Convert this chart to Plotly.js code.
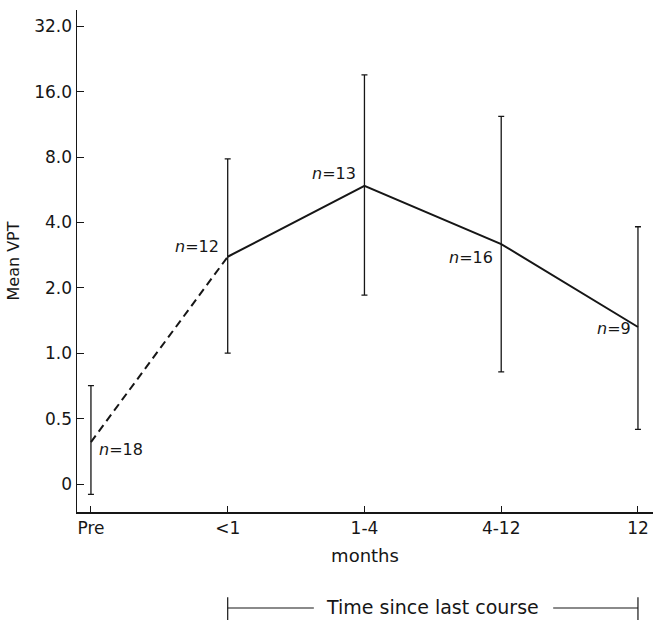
<!DOCTYPE html>
<html>
<head>
<meta charset="utf-8">
<script src="https://cdn.plot.ly/plotly-3.0.1.min.js"></script>
<style>html,body{margin:0;padding:0;background:#fff;}#chart{width:653px;height:620px;}</style>
</head>
<body>
<div id="chart"></div>
<script>
// Data
const categories = ['Pre', '<1', '1-4', '4-12', '12'];
const tickLabels = ['Pre', '&lt;1', '1-4', '4-12', '12'];
const meanVPT = [0.39, 2.78, 5.90, 3.18, 1.32];
const upperVPT = [0.71, 7.84, 19.1, 12.3, 3.82];
const lowerVPT = [0.224, 1.0, 1.85, 0.82, 0.446];
const nValues = [18, 12, 13, 16, 9];
const yTickVals = [0.25, 0.5, 1, 2, 4, 8, 16, 32];
const yTickText = ['0', '0.5', '1.0', '2.0', '4.0', '8.0', '16.0', '32.0'];

const ink = '#161616';
const font = 'DejaVu Sans, Liberation Sans, sans-serif';

const errPlus = meanVPT.map((m, i) => upperVPT[i] - m);
const errMinus = meanVPT.map((m, i) => m - lowerVPT[i]);

const traces = [
  { // dashed segment Pre -> <1
    x: categories.slice(0, 2), y: meanVPT.slice(0, 2),
    type: 'scatter', mode: 'lines',
    line: { color: ink, width: 2, dash: '8px,5px' },
    hoverinfo: 'skip'
  },
  { // solid segment
    x: categories.slice(1), y: meanVPT.slice(1),
    type: 'scatter', mode: 'lines',
    line: { color: ink, width: 2 },
    hoverinfo: 'skip'
  },
  { // error bars
    x: categories, y: meanVPT,
    type: 'scatter', mode: 'markers',
    marker: { size: 1, color: 'rgba(0,0,0,0)' },
    error_y: { type: 'data', symmetric: false, array: errPlus, arrayminus: errMinus,
               color: ink, thickness: 1.3, width: 3 },
    hoverinfo: 'skip'
  }
];

// label offsets (pixels) relative to each point
const labelPos = [
  { xanchor: 'left', xshift: 6, yshift: -7 },
  { xanchor: 'right', xshift: -7, yshift: 10 },
  { xanchor: 'right', xshift: -6, yshift: 12 },
  { xanchor: 'right', xshift: -6, yshift: -13 },
  { xanchor: 'right', xshift: -5, yshift: -1 }
];

const annotations = categories.map((c, i) => ({
  x: i, y: Math.log10(meanVPT[i]), xref: 'x', yref: 'y',
  text: '<i>n</i>=' + nValues[i], showarrow: false,
  xanchor: labelPos[i].xanchor, yanchor: 'middle',
  xshift: labelPos[i].xshift, yshift: labelPos[i].yshift,
  font: { family: font, size: 16, color: ink }
}));

annotations.push({
  x: 2.5, y: -0.189, xref: 'x', yref: 'paper',
  text: 'Time since last course', showarrow: false,
  xanchor: 'center', yanchor: 'middle',
  font: { family: font, size: 19, color: ink }
});

const shapes = [
  { type: 'line', xref: 'x', yref: 'paper', x0: 1, x1: 1.63, y0: -0.1912, y1: -0.1912, line: { color: ink, width: 1.2 } },
  { type: 'line', xref: 'x', yref: 'paper', x0: 3.38, x1: 4, y0: -0.1912, y1: -0.1912, line: { color: ink, width: 1.2 } },
  { type: 'line', xref: 'x', yref: 'paper', x0: 1, x1: 1, y0: -0.170, y1: -0.215, line: { color: ink, width: 1.2 } },
  { type: 'line', xref: 'x', yref: 'paper', x0: 4, x1: 4, y0: -0.170, y1: -0.215, line: { color: ink, width: 1.2 } }
];

const layout = {
  width: 653, height: 620,
  margin: { l: 77, r: 0, t: 10, b: 108 },
  paper_bgcolor: '#fff', plot_bgcolor: '#fff',
  showlegend: false,
  font: { family: font, size: 17, color: ink },
  xaxis: {
    type: 'category', categoryorder: 'array', categoryarray: categories,
    tickvals: categories, ticktext: tickLabels,
    range: [-0.102, 4.11],
    showgrid: false, zeroline: false,
    showline: true, linecolor: ink, linewidth: 1.5,
    ticks: 'inside', ticklen: 6, tickwidth: 1, tickcolor: ink,
    tickfont: { family: font, size: 17, color: ink },
    title: { text: 'months', font: { family: font, size: 18, color: ink }, standoff: 12 }
  },
  yaxis: {
    type: 'log', range: [-0.7309, 1.5798],
    tickvals: yTickVals, ticktext: yTickText,
    showgrid: false, zeroline: false,
    showline: true, linecolor: ink, linewidth: 1.5,
    ticks: 'inside', ticklen: 7, tickwidth: 1, tickcolor: ink,
    tickfont: { family: font, size: 17, color: ink },
    title: { text: 'Mean VPT', font: { family: font, size: 16, color: ink }, standoff: 10 }
  },
  annotations: annotations,
  shapes: shapes
};

Plotly.newPlot('chart', traces, layout, { displayModeBar: false, staticPlot: true });
</script>
</body>
</html>
